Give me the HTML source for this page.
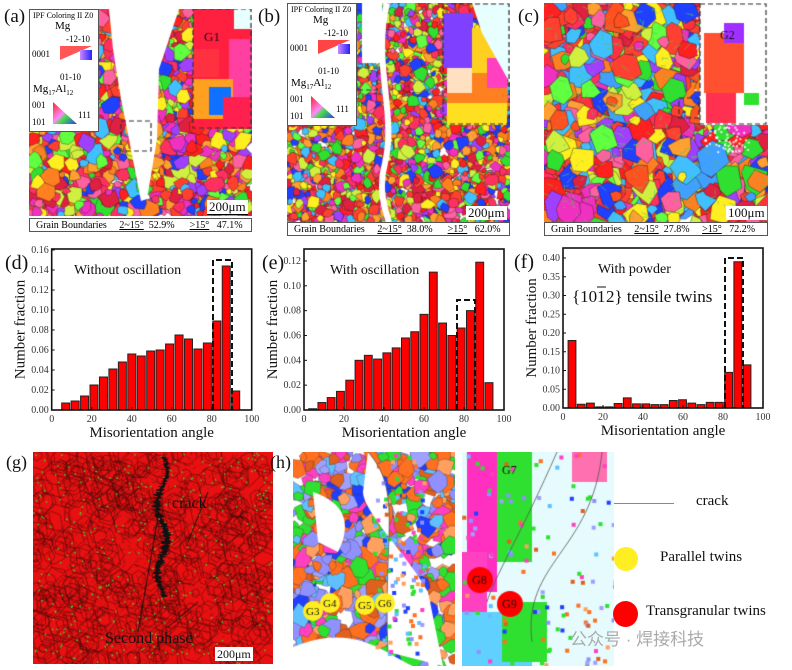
<!DOCTYPE html>
<html><head><meta charset="utf-8"><style>
body{margin:0;width:792px;height:670px;background:#fff;position:relative;overflow:hidden;font-family:"Liberation Serif",serif}
canvas{position:absolute}
.t{position:absolute;font-family:"Liberation Serif",serif;color:#111;white-space:nowrap}
.cap{position:absolute;border:1px solid #555;background:#fff;font-size:10px;font-family:"Liberation Serif",serif;height:14px;line-height:14px;box-sizing:border-box;padding-left:6px}
.leg{position:absolute;background:#fff;border:1px solid #555;font-family:"Liberation Serif",serif;font-size:9px}
</style></head><body>
<canvas id="ca" width="223" height="207" style="left:29px;top:9px"></canvas>
<canvas id="cb" width="223" height="220" style="left:287px;top:3px"></canvas>
<canvas id="cc" width="224" height="220" style="left:544px;top:3px"></canvas>
<canvas id="cg" width="240" height="212" style="left:33px;top:452px"></canvas>
<canvas id="ch1" width="162" height="214" style="left:293px;top:452px"></canvas>
<canvas id="ch2" width="152" height="214" style="left:462px;top:452px"></canvas>

<div class="t" style="left:4px;top:6px;font-size:19px">(a)</div>
<div class="t" style="left:258px;top:6px;font-size:19px">(b)</div>
<div class="t" style="left:518px;top:6px;font-size:19px">(c)</div>
<div class="t" style="left:6px;top:452px;font-size:18px">(g)</div>
<div class="t" style="left:270px;top:452px;font-size:18px">(h)</div>

<div class="leg" style="left:29px;top:9px;width:68px;height:121px">
<div style="position:absolute;left:3px;top:1px;font-size:8px">IPF Coloring II Z0</div>
<div style="position:absolute;left:25px;top:10px;font-size:11px">Mg</div>
<div style="position:absolute;left:36px;top:24px">-12-10</div>
<div style="position:absolute;left:2px;top:39px">0001</div>
<div style="position:absolute;left:30px;top:36px;width:0;height:0;border-left:32px solid #f44;border-bottom:14px solid transparent;opacity:.9"></div>
<div style="position:absolute;left:50px;top:40px;width:12px;height:10px;background:linear-gradient(90deg,#c8f,#22f)"></div>
<div style="position:absolute;left:30px;top:62px">01-10</div>
<div style="position:absolute;left:3px;top:73px;font-size:11px">Mg<sub style="font-size:7px">17</sub>Al<sub style="font-size:7px">12</sub></div>
<div style="position:absolute;left:2px;top:90px">001</div>
<div style="position:absolute;left:2px;top:107px">101</div>
<div style="position:absolute;left:48px;top:100px">111</div>
<div style="position:absolute;left:23px;top:92px;width:24px;height:22px;background:linear-gradient(135deg,#f22,#f8f 45%,#4d4 60%,#33f);clip-path:polygon(0 0,0 100%,100% 100%)"></div>
</div>
<div class="leg" style="left:287px;top:3px;width:68px;height:121px">
<div style="position:absolute;left:3px;top:1px;font-size:8px">IPF Coloring II Z0</div>
<div style="position:absolute;left:25px;top:10px;font-size:11px">Mg</div>
<div style="position:absolute;left:36px;top:24px">-12-10</div>
<div style="position:absolute;left:2px;top:39px">0001</div>
<div style="position:absolute;left:30px;top:36px;width:0;height:0;border-left:32px solid #f44;border-bottom:14px solid transparent"></div>
<div style="position:absolute;left:50px;top:40px;width:12px;height:10px;background:linear-gradient(90deg,#c8f,#22f)"></div>
<div style="position:absolute;left:30px;top:62px">01-10</div>
<div style="position:absolute;left:3px;top:73px;font-size:11px">Mg<sub style="font-size:7px">17</sub>Al<sub style="font-size:7px">12</sub></div>
<div style="position:absolute;left:2px;top:90px">001</div>
<div style="position:absolute;left:2px;top:107px">101</div>
<div style="position:absolute;left:48px;top:100px">111</div>
<div style="position:absolute;left:23px;top:92px;width:24px;height:22px;background:linear-gradient(135deg,#f22,#f8f 45%,#4d4 60%,#33f);clip-path:polygon(0 0,0 100%,100% 100%)"></div>
</div>

<div class="t" style="left:207px;top:200px;font-size:13px;background:#fff;padding:0 2px;border-bottom:1px solid #000;line-height:14px">200μm</div>
<div class="t" style="left:466px;top:206px;font-size:13px;background:#fff;padding:0 2px;line-height:14px">200μm</div>
<div class="t" style="left:726px;top:206px;font-size:13px;background:#fff;padding:0 2px;line-height:14px">100μm</div>
<div class="t" style="left:215px;top:647px;font-size:12px;background:#fff;padding:0 2px;line-height:14px">200μm</div>

<div class="cap" style="left:29px;top:218px;width:223px">Grain Boundaries &nbsp;&nbsp;&nbsp;&nbsp;<u>2~15°</u>&nbsp; 52.9% &nbsp;&nbsp;&nbsp;&nbsp;&nbsp;<u>&gt;15°</u>&nbsp;&nbsp; 47.1%</div>
<div class="cap" style="left:287px;top:222px;width:223px">Grain Boundaries &nbsp;&nbsp;&nbsp;&nbsp;<u>2~15°</u>&nbsp; 38.0% &nbsp;&nbsp;&nbsp;&nbsp;&nbsp;<u>&gt;15°</u>&nbsp;&nbsp; 62.0%</div>
<div class="cap" style="left:544px;top:222px;width:224px">Grain Boundaries &nbsp;&nbsp;&nbsp;&nbsp;<u>2~15°</u>&nbsp; 27.8% &nbsp;&nbsp;&nbsp;&nbsp;<u>&gt;15°</u>&nbsp;&nbsp; 72.2%</div>

<div class="t" style="left:172px;top:495px;font-size:16px">crack</div>
<div class="t" style="left:105px;top:630px;font-size:16px">Second phase</div>
<div class="t" style="left:696px;top:493px;font-size:15px">crack</div>
<div style="position:absolute;left:614px;top:503px;width:60px;height:1px;background:#888"></div>
<div style="position:absolute;left:614px;top:547px;width:24px;height:24px;border-radius:50%;background:#ffee22"></div>
<div class="t" style="left:660px;top:549px;font-size:15px">Parallel twins</div>
<div style="position:absolute;left:613px;top:601px;width:25px;height:26px;border-radius:50%;background:#f00"></div>
<div class="t" style="left:646px;top:603px;font-size:15px">Transgranular twins</div>
<div class="t" style="left:570px;top:625px;font-size:17px;color:#aaa;font-family:'Liberation Sans','Noto Sans CJK SC',sans-serif">公众号 · 焊接科技</div>

<svg width="792" height="670" style="position:absolute;left:0;top:0" font-family="Liberation Serif, serif">
<g id="hist"></g>
</svg>

<script>
let s=12345;function r(){s=(s*1103515245+12345)%2147483648;return s/2147483648;}
const pal=['#ff2020','#ff3060','#f030c0','#ff60a0','#ff8020','#ffa030','#30e030','#60ff40','#2040ff','#a040ff','#ffee20','#e02040','#ff4030','#40c0ff','#d0f040'];
function mosaic(id,cell,palette,n,border){
 const c=document.getElementById(id),x=c.getContext('2d'),W=c.width,H=c.height;
 for(let i=0;i<n;i++){
  const cx=r()*W,cy=r()*H,rad=cell*(0.5+r());
  x.beginPath();for(let k=0;k<6;k++){const a=k/6*6.283+r()*0.6,rr=rad*(0.7+r()*0.5);const px=cx+Math.cos(a)*rr,py=cy+Math.sin(a)*rr;k?x.lineTo(px,py):x.moveTo(px,py);}
  x.closePath();x.fillStyle=palette[Math.floor(r()*palette.length)];x.fill();
  x.strokeStyle=border;x.lineWidth=0.6;x.stroke();
 }
 return x;
}
let a=mosaic('ca',7,pal,2200,'rgba(40,20,20,.6)');
a.fillStyle='#fff';a.beginPath();a.moveTo(80,0);a.lineTo(150,0);a.lineTo(130,60);a.lineTo(128,130);a.lineTo(118,190);a.lineTo(112,192);a.lineTo(100,130);a.lineTo(92,90);a.lineTo(84,40);a.closePath();a.fill();
[['#ff2040',164,0,60,120],['#ff40a0',200,30,24,70],['#ffa020',164,70,40,40],['#1070ff',180,78,22,28],['#ff2050',194,88,30,30],['#ff3040',164,40,26,28]].forEach(q=>{a.fillStyle=q[0];a.fillRect(q[1],q[2],q[3],q[4]);});
a.fillStyle='#e8ffff';a.fillRect(205,0,18,20);
a.strokeStyle='#333';a.setLineDash([5,3]);a.lineWidth=1.2;a.strokeRect(164,0,58,119);a.strokeRect(92,112,30,30);
a.setLineDash([]);a.fillStyle='#111';a.font='13px Liberation Serif';a.fillText('G1',175,32);

let b=mosaic('cb',5,pal,3200,'rgba(40,20,20,.6)');
b.strokeStyle='#fff';b.lineWidth=6;b.beginPath();b.moveTo(100,0);b.bezierCurveTo(85,60,110,110,98,160);b.bezierCurveTo(90,190,100,210,102,220);b.stroke();
b.fillStyle='#fff';b.fillRect(75,0,20,60);
[['#8040ff',156,10,30,55],['#ffd020',185,25,35,50],['#ff8020',160,70,60,50],['#ffe0c0',160,65,25,25],['#ff40c0',200,55,20,30],['#ffe020',160,100,60,22]].forEach(q=>{b.fillStyle=q[0];b.fillRect(q[1],q[2],q[3],q[4]);});
b.fillStyle='#e8ffff';b.beginPath();b.moveTo(185,0);b.lineTo(223,0);b.lineTo(223,80);b.lineTo(195,30);b.closePath();b.fill();
b.strokeStyle='#333';b.setLineDash([5,3]);b.lineWidth=1.2;b.strokeRect(156,1,66,120);b.strokeRect(70,65,20,22);b.setLineDash([]);

let cc=mosaic('cc',11,pal.concat(['#ff5020','#ff3040','#40a0ff']),1400,'rgba(30,30,30,.7)');
const cx2=cc;cx2.strokeStyle='rgba(80,200,80,.6)';cx2.lineWidth=1;
for(let i=0;i<400;i++){const x0=r()*224,y0=r()*220;cx2.beginPath();cx2.moveTo(x0,y0);cx2.lineTo(x0+8*(r()-.5)*2,y0+10*(r()-.3));cx2.stroke();}
cx2.fillStyle='rgba(255,255,255,.85)';for(let i=0;i<300;i++){cx2.fillRect(150+r()*40+ (r()*20), r()*150,2,2);}
cx2.fillStyle='#fff';cx2.fillRect(156,0,68,122);
[['#ff5030',160,30,40,60],['#ff3050',162,90,30,30],['#a030ff',180,20,20,20],['#30e030',200,90,15,12]].forEach(q=>{cx2.fillStyle=q[0];cx2.fillRect(q[1],q[2],q[3],q[4]);});
cx2.strokeStyle='#333';cx2.setLineDash([5,3]);cx2.lineWidth=1.2;cx2.strokeRect(156,1,66,120);cx2.strokeRect(135,95,20,20);cx2.setLineDash([]);
cx2.fillStyle='#111';cx2.font='12px Liberation Serif';cx2.fillText('G2',176,36);

// (g)
let g=document.getElementById('cg').getContext('2d');g.fillStyle='#e81010';g.fillRect(0,0,240,212);
g.strokeStyle='rgba(50,10,10,.75)';g.lineWidth=.6;
for(let i=0;i<500;i++){const cx=r()*240,cy=r()*212,rad=4+r()*12;g.beginPath();for(let k=0;k<6;k++){const an=k/6*6.283+r()*.6;const px=cx+Math.cos(an)*rad,py=cy+Math.sin(an)*rad;k?g.lineTo(px,py):g.moveTo(px,py);}g.closePath();g.stroke();}
g.strokeStyle='rgba(60,20,20,.6)';
for(let i=0;i<1200;i++){const x0=30+r()*180,y0=r()*212;g.beginPath();g.moveTo(x0,y0);g.lineTo(x0+(r()-.5)*8,y0+(r()-.5)*8);g.stroke();}
g.fillStyle='#40d030';for(let i=0;i<350;i++)g.fillRect(r()*240,r()*212,1.5,1.5);
g.fillStyle='#111';for(let y=5;y<145;y++){const w=2+r()*(y>30&&y<130?8:4);g.fillRect(128+Math.sin(y/11)*5-w/2+r()*2,y,w,1);}
g.strokeStyle='#111';g.lineWidth=1;g.beginPath();g.moveTo(125,65);g.lineTo(105,180);g.stroke();g.beginPath();g.moveTo(175,40);g.lineTo(155,90);g.stroke();g.beginPath();g.moveTo(165,150);g.lineTo(135,175);g.stroke();

// (h)
const pal2=['#ff7020','#ff7020','#30e030','#30e030','#9090ff','#ff40c0','#60c0ff','#ffa060','#2040ff','#a0a0ff','#e06020'];
let h1=mosaic('ch1',8,pal2,700,'rgba(40,40,40,.5)');
h1.fillStyle='#fff';h1.beginPath();h1.moveTo(75,0);h1.bezierCurveTo(110,40,90,80,95,200);h1.lineTo(150,214);h1.lineTo(135,140);h1.bezierCurveTo(120,110,70,60,70,40);h1.closePath();h1.fill();
h1.beginPath();h1.moveTo(0,195);h1.bezierCurveTo(60,170,90,200,120,214);h1.lineTo(0,214);h1.fill();
h1.beginPath();h1.moveTo(20,40);h1.bezierCurveTo(50,50,60,70,45,100);h1.lineTo(25,90);h1.closePath();h1.fill();
for(let i=0;i<120;i++){h1.fillStyle=pal2[Math.floor(r()*pal2.length)];h1.fillRect(80+r()*50,r()*200,4,4);}
h1.strokeStyle='#555';h1.lineWidth=.8;h1.beginPath();h1.moveTo(75,0);h1.bezierCurveTo(110,40,90,80,95,200);h1.stroke();
const yel=[[20,159],[37,151],[72,153],[92,151]];h1.font='11px Liberation Serif';
yel.forEach((p,i)=>{h1.fillStyle='#ffee22';h1.beginPath();h1.arc(p[0],p[1],10,0,6.3);h1.fill();h1.fillStyle='#111';h1.fillText('G'+(i+3),p[0]-7,p[1]+4);});
let h2=document.getElementById('ch2').getContext('2d');h2.fillStyle='#e6fbfd';h2.fillRect(0,0,152,214);
[['#ff30c0',5,0,30,140],['#30e030',35,0,35,110],['#ff40c0',0,100,25,60],['#60d0ff',0,160,70,54],['#30e030',40,150,45,60],['#ff70b0',110,0,35,30]].forEach(q=>{h2.fillStyle=q[0];h2.fillRect(q[1],q[2],q[3],q[4]);});
for(let i=0;i<120;i++){h2.fillStyle=pal2[Math.floor(r()*pal2.length)];h2.fillRect(r()*152,r()*214,4,4);}
h2.strokeStyle='#555';h2.lineWidth=.8;h2.beginPath();h2.moveTo(95,0);h2.bezierCurveTo(60,80,30,130,25,150);h2.stroke();h2.beginPath();h2.moveTo(140,0);h2.bezierCurveTo(130,100,60,110,70,190);h2.stroke();
h2.font='12px Liberation Serif';
[[18,128,'G8'],[48,152,'G9']].forEach(p=>{h2.fillStyle='#f00';h2.beginPath();h2.arc(p[0],p[1],13,0,6.3);h2.fill();h2.fillStyle='#111';h2.fillText(p[2],p[0]-8,p[1]+4);});
h2.fillStyle='#111';h2.fillText('G7',40,22);

const NS='http://www.w3.org/2000/svg',G=document.getElementById('hist');
function el(t,at,txt){const e=document.createElementNS(NS,t);for(const k in at)e.setAttribute(k,at[k]);if(txt!==undefined)e.textContent=txt;G.appendChild(e);return e;}
function hist(o){
 const {x0,y0,top,xs,ys,vals,c0,c1,yt,dash,lab,lx,title,tx,fmt}=o;
 const n=vals.length,st=(c1-c0)/(n-1),bw=st*0.85*xs;
 vals.forEach((v,i)=>{const cx=x0+(c0+i*st)*xs;el('rect',{x:cx-bw/2,y:y0-v*ys,width:bw,height:v*ys,fill:'#f00',stroke:'#222','stroke-width':1});});
 el('rect',{x:x0,y:top,width:100*xs,height:y0-top,fill:'none',stroke:'#111','stroke-width':1.6});
 for(let k=0;k<=100;k+=20){el('line',{x1:x0+k*xs,x2:x0+k*xs,y1:y0,y2:y0-3,stroke:'#111'});el('text',{x:x0+k*xs,y:y0+12,'font-size':10,'text-anchor':'middle',fill:'#333'},k);}
 yt.forEach(v=>{const y=y0-v*ys;el('line',{x1:x0,x2:x0+3,y1:y,y2:y,stroke:'#111'});el('text',{x:x0-3,y:y+3,'font-size':10,'text-anchor':'end',fill:'#333'},v.toFixed(fmt));});
 el('text',{x:x0+50*xs,y:y0+27,'font-size':15,'text-anchor':'middle',fill:'#111'},'Misorientation angle');
 el('text',{x:0,y:0,'font-size':15,'text-anchor':'middle',fill:'#111',transform:`translate(${x0-27},${(y0+top)/2}) rotate(-90)`},'Number fraction');
 el('text',{x:lx,y:top+20,'font-size':20,fill:'#111'},lab);
 el('text',{x:tx,y:top+25,'font-size':14,fill:'#111'},title);
 el('polyline',{points:`${dash[0]},${y0} ${dash[0]},${dash[2]} ${dash[1]},${dash[2]} ${dash[1]},${y0}`,fill:'none',stroke:'#111','stroke-width':2,'stroke-dasharray':'6,3'});
}
hist({x0:51.7,y0:410,top:249,xs:2,ys:1000,c0:7,c1:92,vals:[.007,.009,.014,.025,.033,.041,.048,.056,.054,.059,.060,.066,.075,.071,.061,.067,.089,.144,.019],yt:[0,.02,.04,.06,.08,.10,.12,.14,.16],fmt:2,dash:[213,232,260],lab:'(d)',lx:5,title:'Without oscillation',tx:74});
hist({x0:304,y0:410,top:249,xs:2,ys:1242,c0:4.3,c1:92.5,vals:[.001,.006,.010,.015,.024,.040,.044,.041,.046,.050,.058,.063,.077,.111,.070,.060,.066,.080,.119,.022],yt:[0,.02,.04,.06,.08,.10,.12],fmt:2,dash:[457,475,300],lab:'(e)',lx:262,title:'With oscillation',tx:330});
hist({x0:563,y0:408,top:248,xs:2,ys:375,c0:4.5,c1:92,vals:[.18,.01,.013,.003,.003,.012,.027,.011,.011,.009,.009,.02,.022,.013,.009,.015,.015,.095,.39,.115],yt:[0,.05,.10,.15,.20,.25,.30,.35,.40],fmt:2,dash:[725,743,258],lab:'(f)',lx:514,title:'With powder',tx:598});
el('text',{x:572,y:302,'font-size':17,fill:'#111'},'{10');
el('text',{x:597,y:302,'font-size':17,fill:'#111'},'1');el('line',{x1:597,x2:606,y1:287,y2:287,stroke:'#111'});
el('text',{x:606,y:302,'font-size':17,fill:'#111'},'2} tensile twins');
</script>
</body></html>
